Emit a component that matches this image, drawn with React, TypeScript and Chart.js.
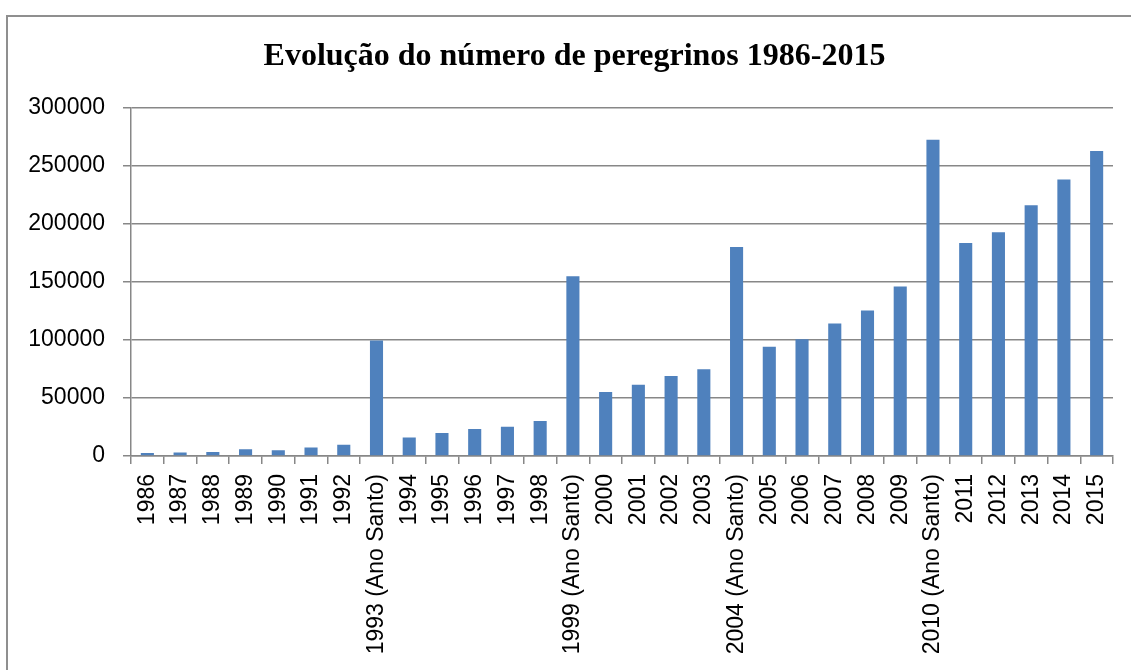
import React, { useEffect, useRef } from "react";
import { Chart, registerables } from "chart.js";

Chart.register(...registerables);

const TITLE = "Evolução do número de peregrinos 1986-2015";

const years: string[] = [
  "1986", "1987", "1988", "1989", "1990", "1991", "1992",
  "1993 (Ano Santo)", "1994", "1995", "1996", "1997", "1998",
  "1999 (Ano Santo)", "2000", "2001", "2002", "2003",
  "2004 (Ano Santo)", "2005", "2006", "2007", "2008", "2009",
  "2010 (Ano Santo)", "2011", "2012", "2013", "2014", "2015",
];

const pilgrims: number[] = [
  2491, 2905, 3501, 5760, 4918, 7274, 9764,
  99436, 15863, 19821, 23218, 25179, 30126,
  154613, 55004, 61418, 68952, 74614,
  179944, 93924, 100377, 114026, 125141, 145877,
  272135, 183366, 192488, 215880, 237886, 262516,
];

const yTicks: number[] = [0, 50000, 100000, 150000, 200000, 250000, 300000];

const GRID = "#878787";
const BAR = "#4F81BD";

const widenYAxis = {
  id: "widenYAxis",
  afterLayout(chart: any) {
    const y = chart.scales.y;
    if (y) {
      y.left = 0;
      y.width = y.right;
    }
  },
};

export default function App() {
  const ref = useRef<HTMLCanvasElement | null>(null);

  useEffect(() => {
    if (!ref.current) return;
    const chart = new Chart(ref.current, {
      type: "bar",
      data: {
        labels: years,
        datasets: [
          {
            label: "Peregrinos",
            data: pilgrims,
            backgroundColor: BAR,
            borderWidth: 0,
            barPercentage: 0.4,
            categoryPercentage: 1,
          },
        ],
      },
      plugins: [widenYAxis],
      options: {
        animation: false,
        responsive: false,
        maintainAspectRatio: false,
        layout: { padding: { left: 36, right: 18, top: 0, bottom: 0 } },
        plugins: {
          legend: { display: false },
          tooltip: { enabled: false },
          title: {
            display: true,
            text: TITLE,
            color: "#000",
            font: { family: "'Liberation Serif', 'Times New Roman', serif", size: 32, weight: "bold" },
            padding: { top: 38, bottom: 31 },
          },
        },
        scales: {
          x: {
            type: "category",
            offset: true,
            grid: {
              offset: true,
              drawOnChartArea: false,
              drawTicks: true,
              tickLength: 8,
              color: GRID,
              lineWidth: 1.5,
            },
            border: { display: true, color: GRID, width: 1.5 },
            ticks: {
              autoSkip: false,
              minRotation: 90,
              maxRotation: 90,
              padding: 10,
              color: "#000",
              font: { family: "'Liberation Sans', Arial, sans-serif", size: 23 },
            },
            afterFit: (s: any) => {
              s.height = 670 - 456;
              s.paddingLeft = 0;
              s.paddingRight = 0;
            },
          },
          y: {
            min: 0,
            max: 300000,
            afterBuildTicks: (s: any) => {
              s.ticks = yTicks.map((v) => ({ value: v }));
            },
            grid: {
              drawTicks: true,
              tickLength: 8,
              color: GRID,
              lineWidth: 1.5,
            },
            border: { display: true, color: GRID, width: 1.5 },
            ticks: {
              padding: 18,
              color: "#000",
              font: { family: "'Liberation Sans', Arial, sans-serif", size: 23 },
              callback: (v: any) => String(v),
            },
            afterFit: (s: any) => {
              s.width = 131 - 36;
              s.paddingTop = 0;
              s.paddingBottom = 0;
            },
          },
        },
      },
    });
    return () => chart.destroy();
  }, []);

  return (
    <div
      style={{
        position: "fixed",
        left: 0,
        top: 0,
        width: 1131,
        height: 670,
        overflow: "hidden",
        background: "#fff",
      }}
    >
      <div
        style={{
          position: "absolute",
          left: 6,
          top: 15,
          width: 1200,
          height: 800,
          border: "2px solid #8f8f8f",
          boxSizing: "border-box",
        }}
      />
      <canvas
        ref={ref}
        width={1131}
        height={670}
        style={{ position: "absolute", left: 0, top: 0, width: 1131, height: 670 }}
      />
    </div>
  );
}
